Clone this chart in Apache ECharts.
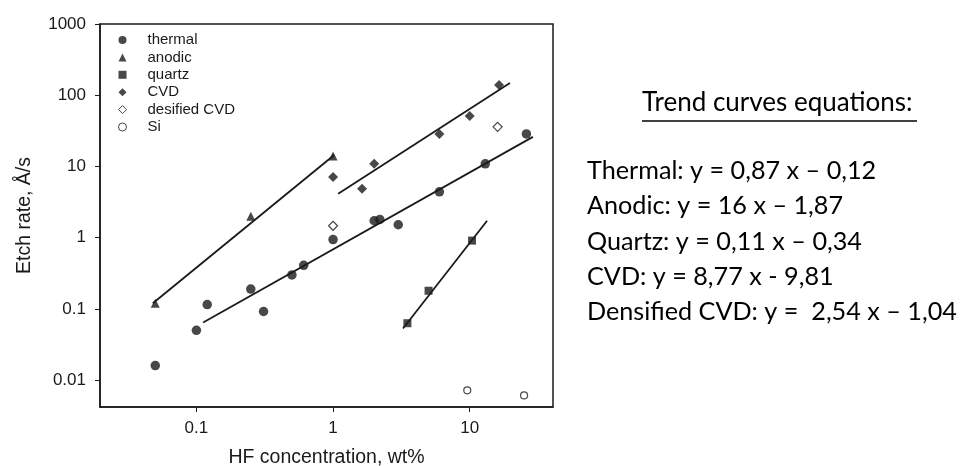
<!DOCTYPE html>
<html><head><meta charset="utf-8">
<script src="https://cdn.jsdelivr.net/npm/echarts@6/dist/echarts.min.js"></script>
<style>html,body{margin:0;padding:0;background:#fff}#c{width:960px;height:466px}</style>
</head><body><div id="c"></div>
<script>
// ---- data (HF concentration wt%, etch rate Å/s) ----
const thermalX = [0.05, 0.10, 0.12, 0.25, 0.31, 0.50, 0.61, 1.0, 2.0, 2.2, 3.0, 6.0, 13, 26];
const thermalY = [0.016, 0.050, 0.115, 0.19, 0.092, 0.30, 0.41, 0.94, 1.73, 1.8, 1.52, 4.4, 10.9, 28.6];
const anodicX = [0.05, 0.25, 1.0];
const anodicY = [0.12, 2.0, 14];
const quartzX = [3.5, 5.0, 10.4];
const quartzY = [0.063, 0.18, 0.91];
const cvdX = [1.0, 1.63, 2.0, 6.0, 10, 16.4];
const cvdY = [7.1, 4.85, 10.9, 28.6, 51, 139];
const densX = [1.0, 16];
const densY = [1.47, 36];
const siX = [9.6, 25];
const siY = [0.0072, 0.0061];
// trend line end points
const thermalLineX = [0.112, 29];
const thermalLineY = [0.0645, 26];
const anodicLineX = [0.048, 1.02];
const anodicLineY = [0.12, 14.5];
const cvdLineX = [1.09, 19.7];
const cvdLineY = [4.13, 148];
const quartzLineX = [3.25, 13.4];
const quartzLineY = [0.053, 1.73];
// labels / ticks
const seriesNames = ['thermal', 'anodic', 'quartz', 'CVD', 'desified CVD', 'Si'];
const xTickValues = [0.1, 1, 10];
const xTickLabels = ['0.1', '1', '10'];
const yTickValues = [0.01, 0.1, 1, 10, 100, 1000];
const yTickLabels = ['0.01', '0.1', '1', '10', '100', '1000'];
const eqTitle = 'Trend curves equations:';
const eqLines = [
  'Thermal: y = 0,87 x \u2013 0,12',
  'Anodic: y = 16 x \u2013 1,87',
  'Quartz: y = 0,11 x \u2013 0,34',
  'CVD: y = 8,77 x - 9,81',
  'Densified CVD: y =  2,54 x \u2013 1,04'
];

const zip = (xs, ys) => xs.map((x, i) => [x, ys[i]]);
const tickFmt = (vals, labels) => (v) => {
  const i = vals.findIndex(t => Math.abs(Math.log10(t / v)) < 1e-6);
  return i >= 0 ? labels[i] : '';
};
const ink = '#1a1a1a';
const axFont = 'Liberation Sans, Arial, sans-serif';
const eqFont = 'Lato, "Open Sans", sans-serif';

function scatter(name, xs, ys, symbol, size, open) {
  return {
    type: 'scatter', name, data: zip(xs, ys), symbol, symbolSize: size,
    itemStyle: open ? {color: '#fff', borderColor: ink, borderWidth: 1.2} : {color: ink},
    z: 3
  };
}
function trend(xs, ys) {
  return {
    type: 'line', data: zip(xs, ys), showSymbol: false, symbol: 'none', silent: true,
    lineStyle: {color: ink, width: 1.8}, z: 2
  };
}

const eqSize = 25.2;
const eqGraphics = [
  {type: 'text', left: 642, top: 103 - 13, style: {text: eqTitle, font: '26px ' + eqFont, fill: '#000'}},
  {type: 'line', shape: {x1: 642, y1: 121, x2: 917, y2: 121}, style: {stroke: '#000', lineWidth: 1.5}}
].concat(eqLines.map((t, i) => ({
  type: 'text', left: 587, top: 171 + i * 35.3 - eqSize / 2,
  style: {text: t, font: eqSize + 'px ' + eqFont, fill: '#000'}
})));

const chart = echarts.init(document.getElementById('c'), null, {renderer: 'canvas'});
chart.setOption({
  animation: false,
  backgroundColor: '#fff',
  grid: {left: 100, right: 407, top: 24, bottom: 59, show: true, borderColor: ink, borderWidth: 1.5, containLabel: false, outerBoundsMode: 'none'},
  legend: {
    orient: 'vertical', left: 118, top: 32.5, padding: 0,
    itemWidth: 8, itemHeight: 8, itemGap: 2.4,
    data: [
      {name: 'thermal', icon: 'circle'},
      {name: 'anodic', icon: 'triangle'},
      {name: 'quartz', icon: 'rect'},
      {name: 'CVD', icon: 'diamond'},
      {name: 'desified CVD', icon: 'diamond', itemStyle: {color: '#fff', borderColor: ink, borderWidth: 1}},
      {name: 'Si', icon: 'circle', itemStyle: {color: '#fff', borderColor: ink, borderWidth: 1}}
    ],
    formatter: (n) => '{t|' + n + '}',
    textStyle: {color: ink, fontFamily: axFont, fontSize: 15, lineHeight: 15,
      rich: {t: {fontSize: 15, fontFamily: axFont, color: ink, padding: [0, 0, 0, 16], lineHeight: 15}}}
  },
  xAxis: {
    type: 'log', logBase: 10, min: 0.0197, max: 40.7,
    axisLine: {show: true, lineStyle: {color: ink, width: 1.5}},
    axisTick: {show: true, length: 5, customValues: xTickValues, lineStyle: {color: ink, width: 1}},
    minorTick: {show: false}, splitLine: {show: false},
    axisLabel: {customValues: xTickValues, formatter: tickFmt(xTickValues, xTickLabels), fontSize: 17, color: ink, fontFamily: axFont, margin: 13},
    name: 'HF concentration, wt%', nameLocation: 'middle', nameGap: 41,
    nameTextStyle: {fontSize: 19.5, color: ink, fontFamily: axFont}
  },
  yAxis: {
    type: 'log', logBase: 10, min: 0.0042, max: 1000,
    axisLine: {show: true, lineStyle: {color: ink, width: 1.5}},
    axisTick: {show: true, length: 5, customValues: yTickValues, lineStyle: {color: ink, width: 1}},
    minorTick: {show: false}, splitLine: {show: false},
    axisLabel: {customValues: yTickValues, formatter: tickFmt(yTickValues, yTickLabels), fontSize: 17, color: ink, fontFamily: axFont, margin: 14},
    name: 'Etch rate, \u00C5/s', nameLocation: 'middle', nameGap: 65, nameRotate: 90,
    nameTextStyle: {fontSize: 19.5, color: ink, fontFamily: axFont}
  },
  series: [
    trend(thermalLineX, thermalLineY),
    trend(anodicLineX, anodicLineY),
    trend(cvdLineX, cvdLineY),
    trend(quartzLineX, quartzLineY),
    scatter(seriesNames[0], thermalX, thermalY, 'circle', 9.5, false),
    scatter(seriesNames[1], anodicX, anodicY, 'triangle', 9, false),
    scatter(seriesNames[2], quartzX, quartzY, 'rect', 8, false),
    scatter(seriesNames[3], cvdX, cvdY, 'diamond', 10, false),
    scatter(seriesNames[4], densX, densY, 'diamond', 9, true),
    scatter(seriesNames[5], siX, siY, 'circle', 7, true)
  ],
  graphic: eqGraphics
});
</script></body></html>
